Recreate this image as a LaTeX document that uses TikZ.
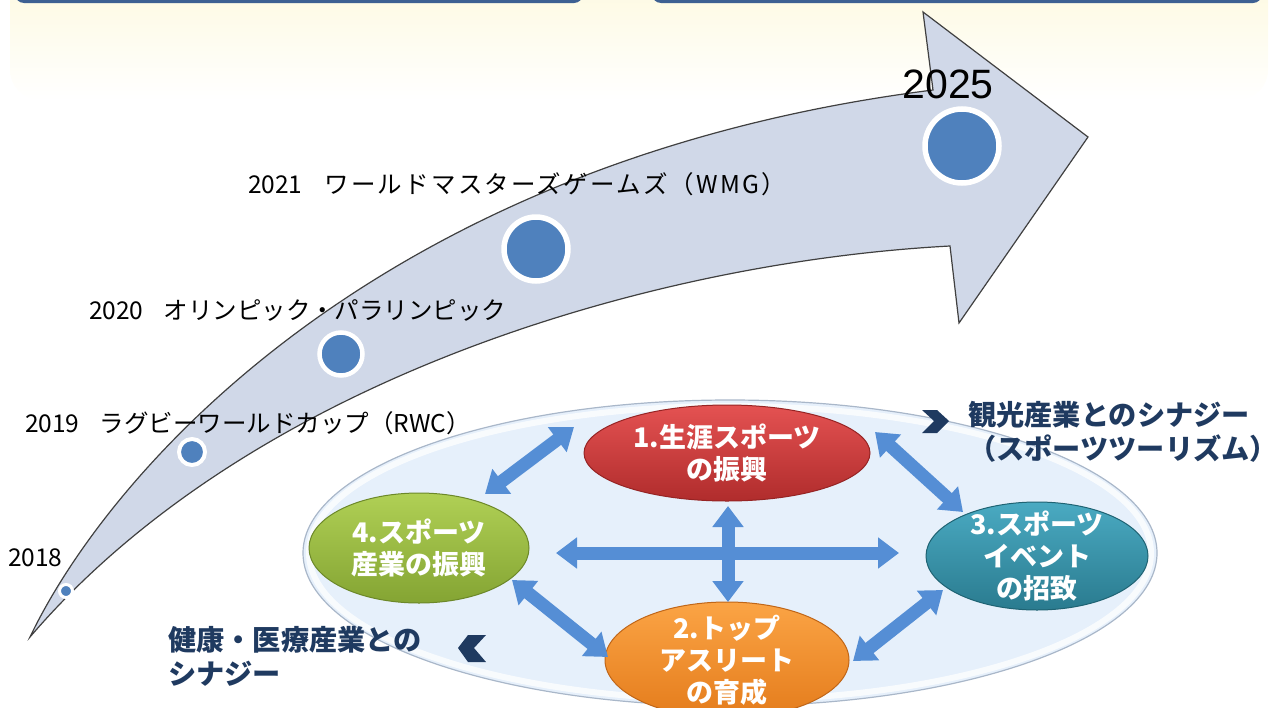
\documentclass[tikz,border=0pt]{standalone}
\usepackage{fontspec}
\setmainfont{Noto Sans CJK JP}
\newfontfamily\arialf{Liberation Sans}
\usetikzlibrary{arrows.meta,shapes.geometric}
\definecolor{glowyellow}{HTML}{FDF9DE}
\definecolor{headblue}{HTML}{3D6092}
\definecolor{headedge}{HTML}{6F8FBF}
\definecolor{tlfill}{HTML}{D0D8E8}
\definecolor{tlborder}{HTML}{404040}
\definecolor{dotblue}{HTML}{4F81BD}
\definecolor{fieldfill}{HTML}{E6F0FB}
\definecolor{fieldedge}{HTML}{A9B7C9}
\definecolor{arrowblue}{HTML}{558ED5}
\definecolor{navy}{HTML}{1F3A60}
\definecolor{redtop}{HTML}{E45252}
\definecolor{redbot}{HTML}{B02C2C}
\definecolor{redline}{HTML}{962424}
\definecolor{greentop}{HTML}{B0D055}
\definecolor{greenbot}{HTML}{84A433}
\definecolor{greenline}{HTML}{6C8829}
\definecolor{tealtop}{HTML}{4AAAC2}
\definecolor{tealbot}{HTML}{2A7B8F}
\definecolor{tealline}{HTML}{1F6373}
\definecolor{orangetop}{HTML}{FBA445}
\definecolor{orangebot}{HTML}{E47C1C}
\definecolor{orangeline}{HTML}{C06618}
\begin{document}
\begin{tikzpicture}[x=1pt,y=-1pt,
  tl/.style={draw=tlborder, line width=1.2pt, fill=tlfill, line join=miter},
  dot/.style={circle, fill=dotblue, draw=white, inner sep=0pt},
  yr/.style={anchor=west, font=\fontsize{24.5}{28}\selectfont, inner sep=0pt},
  oval/.style={ellipse, inner sep=0pt, line width=1pt},
  ntext/.style={text=white, font=\bfseries\fontsize{27}{32}\selectfont, align=center, inner sep=0pt},
  biarrow/.style={draw=arrowblue, line width=13pt, {Triangle[width=30pt,length=21pt]}-{Triangle[width=30pt,length=21pt]}},
  navytext/.style={text=navy, font=\bfseries\fontsize{28.2}{34}\selectfont, align=left, anchor=west, inner sep=0pt},
  chev/.style={fill=navy}
]
\useasboundingbox (0,0) rectangle (1279,707);
% background glow and header bars
\shade[top color=glowyellow, bottom color=white, rounded corners=30pt] (10,-30) rectangle (1268,100);
\fill[headblue, rounded corners=9pt] (15,-30) rectangle (583,3);
\fill[headblue, rounded corners=9pt] (652,-30) rectangle (1262,3);
% timeline arrow
\draw[tl] (30,637) .. controls (110,470) and (380,160) .. (933,90)
  -- (923,12) -- (1088,137) -- (959,323) -- (950,246)
  .. controls (650,262) and (250,380) .. (30,637) -- cycle;
% milestones
\node[dot, minimum size=13pt, line width=3pt] (c18) at (66,591) {};
\node[dot, minimum size=26pt, line width=4pt] (c19) at (192,452) {};
\node[dot, minimum size=43pt, line width=4.5pt] (c20) at (341,354) {};
\node[dot, minimum size=64pt, line width=5.5pt] (c21) at (536,249) {};
\node[dot, minimum size=74pt, line width=5.5pt] (c25) at (962,146) {};
\node[yr] (l18) at (8,558) {2018};
\node[yr] (l19) at (25,423) {2019\hspace{20pt}ラグビーワールドカップ（RWC）};
\node[yr] (l20) at (89,310) {2020\hspace{20pt}オリンピック・パラリンピック};
\node[yr] (l21) at (248,184) {2021\hspace{22pt}{\addfontfeature{LetterSpace=9}ワールドマスターズゲームズ（WMG）}};
\node[font=\arialf\fontsize{41}{45}\selectfont, inner sep=0pt] (l25) at (948,84) {2025};
% field
\node[ellipse, minimum width=854pt, minimum height=306pt, inner sep=0pt, fill=fieldfill, draw=fieldedge, line width=1.2pt] (field) at (730,553) {};
\draw[white, line width=6pt, opacity=0.75] (730,553) ellipse [x radius=421, y radius=147];
% four pillars
\node[oval, minimum width=286pt, minimum height=96pt, top color=redtop, bottom color=redbot, draw=redline,
  label={[ntext]center:{1.生涯スポーツ\\の振興}}] (n1) at (727,453) {};
\node[oval, minimum width=244pt, minimum height=116pt, top color=orangetop, bottom color=orangebot, draw=orangeline,
  label={[ntext]center:{2.トップ\\アスリート\\の育成}}] (n2) at (727,660) {};
\node[oval, minimum width=222pt, minimum height=108pt, top color=tealtop, bottom color=tealbot, draw=tealline,
  label={[ntext]center:{3.スポーツ\\イベント\\の招致}}] (n3) at (1037,556) {};
\node[oval, minimum width=220pt, minimum height=110pt, top color=greentop, bottom color=greenbot, draw=greenline,
  label={[ntext]center:{4.スポーツ\\産業の振興}}] (n4) at (419,548) {};
% connecting double arrows
\draw[biarrow] ([shift={(66,-54)}]n4.center) -- ([shift={(-153,-26)}]n1.center);
\draw[biarrow] ([shift={(148,-21)}]n1.center) -- ([shift={(-74,-44)}]n3.center);
\draw[biarrow] ([shift={(93,32)}]n4.center) -- ([shift={(-119,-3)}]n2.center);
\draw[biarrow] ([shift={(126,1)}]n2.center) -- ([shift={(-94,34)}]n3.center);
\draw[biarrow] ([shift={(137,5)}]n4.center) -- ([shift={(-138,-3)}]n3.center);
\draw[biarrow] ([shift={(1,53)}]n1.center) -- ([shift={(1,-58)}]n2.center);
% synergies
\fill[chev] (922,410) -- (937,410) -- (949,421) -- (937,433) -- (922,433) -- (934,421) -- cycle;
\fill[chev] (468,635) -- (486,635) -- (474,648) -- (486,662) -- (468,662) -- (458,648) -- cycle;
\node[navytext] (t1) at (968,432) {観光産業とのシナジー\\（スポーツツーリズム）};
\node[navytext] (t2) at (168,656) {健康・医療産業との\\シナジー};
\end{tikzpicture}
\end{document}
